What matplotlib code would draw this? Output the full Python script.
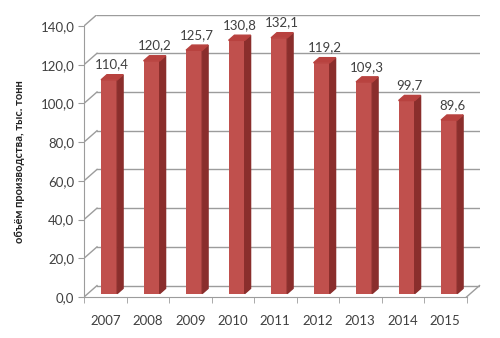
import numpy as np
import matplotlib
matplotlib.use("Agg")
from matplotlib import pyplot as plt
from matplotlib.patches import Polygon

years = ["2007", "2008", "2009", "2010", "2011", "2012", "2013", "2014", "2015"]
values = [110.4, 120.2, 125.7, 130.8, 132.1, 119.2, 109.3, 99.7, 89.6]
yticks = [0, 20, 40, 60, 80, 100, 120, 140]

plt.rcParams['font.family'] = ['Lato', 'DejaVu Sans']

# fake 3d: depth offset of the back wall in data units
DX = 0.306
DY = 5.9
f0, f1 = 0.3, 0.75    # bar depth (front, back) as fraction of the depth
w = 0.38
grid_col = "#9C9C9C"
text_col = "#404040"

fig = plt.figure(figsize=(5, 3.38), dpi=100)
ax = fig.add_axes([84 / 500, 41 / 338, (9 + DX) * 42.5 / 500, (140 + DY) * 1.936 / 338])
ax.set_xlim(-0.5, 8.5 + DX)
ax.set_ylim(0, 140 + DY)

x = np.arange(len(years))
x0, x1 = -0.5, len(years) - 0.5

# back wall grid + left side wall diagonals
for v in yticks:
    ax.plot([x0 + DX, x1 + DX], [v + DY, v + DY], color=grid_col, lw=1, zorder=1)
    ax.plot([x0, x0 + DX], [v, v + DY], color=grid_col, lw=1, zorder=1)
# floor right edge
ax.plot([x1, x1 + DX], [0, DY], color=grid_col, lw=1, zorder=1, clip_on=False)

# bars
ax.bar(x + f0 * DX, values, width=w, bottom=f0 * DY, color="#C0504D", zorder=3)
for xi, v in zip(x, values):
    xr = xi + w / 2 + f0 * DX
    xl = xi - w / 2 + f0 * DX
    side = [(xr, f0 * DY), (xr + (f1 - f0) * DX, f1 * DY),
            (xr + (f1 - f0) * DX, v + f1 * DY), (xr, v + f0 * DY)]
    top = [(xl, v + f0 * DY), (xr, v + f0 * DY),
           (xr + (f1 - f0) * DX, v + f1 * DY), (xl + (f1 - f0) * DX, v + f1 * DY)]
    ax.add_patch(Polygon(side, closed=True, color="#8A2E2C", zorder=3))
    ax.add_patch(Polygon(top, closed=True, color="#B8423F", zorder=3))
    ax.annotate(f"{v:.1f}".replace(".", ","), (xi + 0.5 * (f0 + f1) * DX, v + f1 * DY),
                xytext=(0, 3), textcoords="offset points", ha="center", va="bottom",
                fontsize=9.5, color=text_col)

# axes
for s in ["top", "right"]:
    ax.spines[s].set_visible(False)
ax.spines["left"].set_bounds(0, 140)
ax.spines["bottom"].set_bounds(x0, x1)
for s in ["left", "bottom"]:
    ax.spines[s].set_color(grid_col)

ax.set_yticks(yticks)
ax.set_yticklabels([f"{v:.1f}".replace(".", ",") for v in yticks])
ax.set_xticks(x)
ax.set_xticklabels(years)
ax.set_xticks(np.arange(x0, x1 + 0.01, 1), minor=True)
ax.tick_params(axis="x", which="major", length=0, pad=13, labelsize=9.5, colors=text_col)
ax.tick_params(axis="x", which="minor", length=4, color=grid_col)
ax.tick_params(axis="y", length=4, color=grid_col, labelsize=9.5, labelcolor=text_col, pad=3)

ax.set_ylabel("объём производства, тыс. тонн", fontsize=8, fontweight="bold", color="#222222")
ax.yaxis.set_label_coords(-0.149, 0.478)

plt.savefig("out.png", dpi=100)
